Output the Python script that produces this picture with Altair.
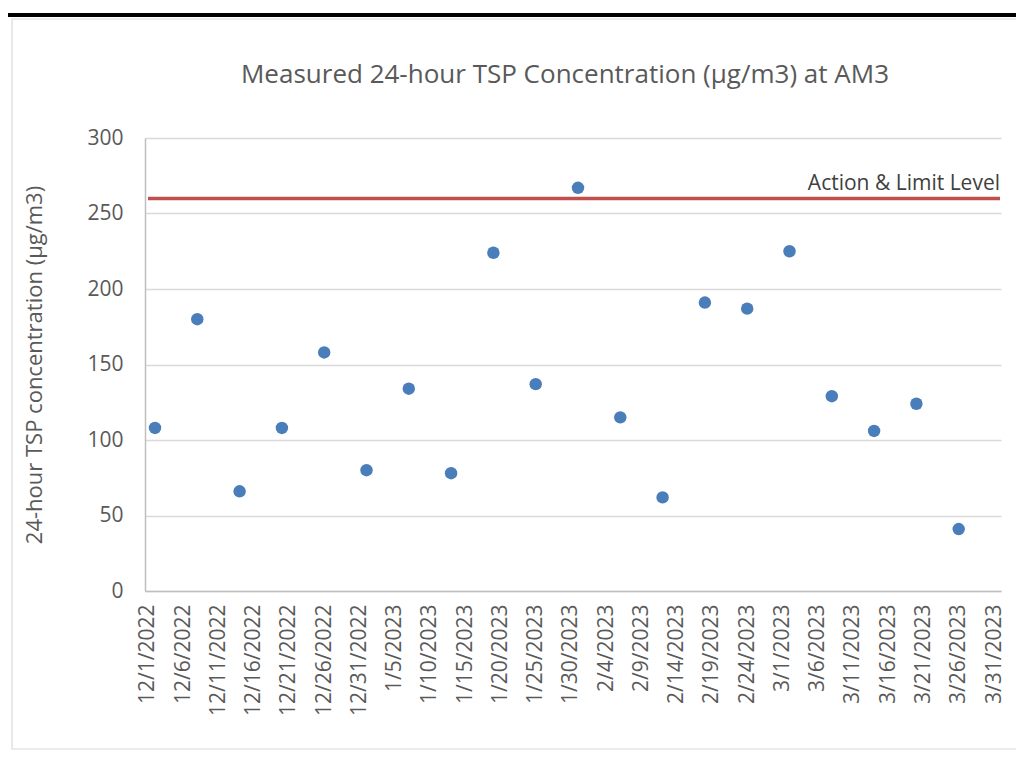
import altair as alt
import pandas as pd

# ---- data ----
dates = ["2022-12-01", "2022-12-07", "2022-12-13", "2022-12-19", "2022-12-25",
         "2022-12-31", "2023-01-06", "2023-01-12", "2023-01-18", "2023-01-24",
         "2023-01-30", "2023-02-05", "2023-02-11", "2023-02-17", "2023-02-23",
         "2023-03-01", "2023-03-07", "2023-03-13", "2023-03-19", "2023-03-25"]
tsp = [108, 180, 66, 108, 158, 80, 134, 78, 224, 137,
       267, 115, 62, 191, 187, 225, 129, 106, 124, 41]
limit_value = 260
limit_label = "Action & Limit Level"
title_text = "Measured 24-hour TSP Concentration (µg/m3) at AM3"
y_title = "24-hour TSP concentration (µg/m3)"
tick_dates = [(2022, 12, 1), (2022, 12, 6), (2022, 12, 11), (2022, 12, 16),
              (2022, 12, 21), (2022, 12, 26), (2022, 12, 31), (2023, 1, 5),
              (2023, 1, 10), (2023, 1, 15), (2023, 1, 20), (2023, 1, 25),
              (2023, 1, 30), (2023, 2, 4), (2023, 2, 9), (2023, 2, 14),
              (2023, 2, 19), (2023, 2, 24), (2023, 3, 1), (2023, 3, 6),
              (2023, 3, 11), (2023, 3, 16), (2023, 3, 21), (2023, 3, 26),
              (2023, 3, 31)]
y_ticks = [0, 50, 100, 150, 200, 250, 300]

df = pd.DataFrame({"Date": dates, "TSP": tsp})

W, H = 856, 453
FONT = "Open Sans"
GREY = "#595959"

tick_values = [alt.DateTime(year=y, month=m, date=d, utc=True) for (y, m, d) in tick_dates]
x_scale = alt.Scale(type="utc",
                    domain=[alt.DateTime(year=2022, month=11, date=29, hours=14, utc=True),
                            alt.DateTime(year=2023, month=3, date=31, utc=True)],
                    nice=False)
y_scale = alt.Scale(domain=[0, 300], nice=False)

one = alt.Data(values=[{}])

frame = alt.Chart(one).mark_rect(fillOpacity=0, stroke="#d9d9d9", strokeWidth=1.2).encode(
    x=alt.value(-133), x2=alt.value(W + 40), y=alt.value(-119), y2=alt.value(611)
)
topbar = alt.Chart(one).mark_rule(color="black", strokeWidth=4).encode(
    x=alt.value(-150), x2=alt.value(W + 40), y=alt.value(-123)
)

points = alt.Chart(df).mark_circle(size=155, color="#4a7ebb", opacity=1).encode(
    x=alt.X("Date:T", scale=x_scale,
            axis=alt.Axis(values=tick_values, format="%-m/%-d/%Y", labelAngle=270,
                          labelOffset=-7, labelPadding=13, grid=False, ticks=False,
                          title="", labelFont=FONT, labelFontSize=21,
                          labelColor=GREY, domainColor="#bfbfbf", domainWidth=1.5)),
    y=alt.Y("TSP:Q", scale=y_scale,
            axis=alt.Axis(values=y_ticks, grid=True, gridColor="#d9d9d9", gridWidth=1.4,
                          ticks=False, title="", labelPadding=22, labelFont=FONT,
                          labelFontSize=21, labelColor=GREY, domainColor="#bfbfbf",
                          domainWidth=1.5)),
)

limit_rule = alt.Chart(one).mark_rule(color="#c0504d", strokeWidth=3.5).encode(
    x=alt.value(3), x2=alt.value(W - 1), y=alt.datum(limit_value)
)
limit_text = alt.Chart(one).mark_text(align="right", baseline="alphabetic", dy=-8,
                                       font=FONT, fontSize=21, color="#404040").encode(
    x=alt.value(W - 1), y=alt.datum(limit_value), text=alt.value(limit_label)
)
title = alt.Chart(one).mark_text(align="center", baseline="middle", font=FONT,
                                  fontSize=26, color=GREY).encode(
    x=alt.value(420), y=alt.value(-63), text=alt.value(title_text)
)
ytitle = alt.Chart(one).mark_text(align="center", baseline="middle", angle=270, font=FONT,
                                   fontSize=22, color=GREY).encode(
    x=alt.value(-110), y=alt.value(227), text=alt.value(y_title)
)

chart = alt.layer(frame, topbar, limit_rule, points, limit_text, title, ytitle).properties(
    width=W, height=H,
    autosize=alt.AutoSizeParams(type="none"),
    padding={"left": 137, "top": 130, "right": 15, "bottom": 159},
    background="white",
).configure_view(strokeWidth=0)

chart.save("out.html", embed_options={"renderer": "svg", "actions": False})
